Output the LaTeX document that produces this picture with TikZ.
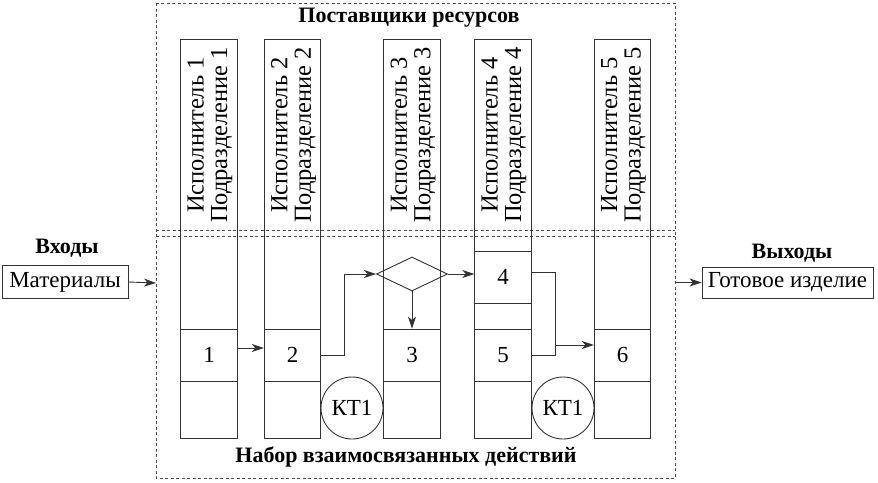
\documentclass[tikz,border=0pt]{standalone}
\usepackage{fontspec}
\setmainfont{Liberation Serif}
\usetikzlibrary{arrows.meta,shapes.geometric,calc}
\newcommand{\fs}{\fontsize{23}{25}\selectfont}
\newcommand{\fc}{\fontsize{24.5}{23.5}\selectfont}
\newcommand{\fb}{\fontsize{22}{24}\selectfont\bfseries}
\begin{document}
\begin{tikzpicture}[x=1pt,y=-1pt,
  ln/.style={line width=0.9pt, draw=black!80},
  frame/.style={line width=0.9pt, draw=black!70, dash pattern=on 3pt off 2.5pt},
  colbox/.style={ln, rectangle, minimum width=56.5pt, minimum height=399pt, inner sep=0pt},
  cell/.style={ln, rectangle, minimum width=56.5pt, minimum height=52pt, inner sep=0pt, font=\fs},
  coltext/.style={rotate=90, align=center, font=\fc, inner sep=0pt},
  hdr/.style={font=\fb, inner sep=0pt},
  io/.style={ln, rectangle, inner sep=0pt, font=\fs},
  kt/.style={ln, circle, minimum size=62pt, inner sep=0pt, font=\fs},
  arr/.style={ln, -{Stealth[length=12pt,width=8pt,inset=3.5pt]}}
]
\useasboundingbox (0,0) rectangle (878,482);
\fill[white] (0,0) rectangle (878,482);

% outer frame and split
\draw[frame] (156,3) rectangle (675,478);
\draw[frame] (156,230) -- (675,230);
\draw[frame] (156,236.5) -- (675,236.5);

\node[hdr] (top) at (409,18) {Поставщики ресурсов};
\node[hdr] (bot) at (406,457) {Набор взаимосвязанных действий};

% columns
\foreach \n/\x in {1/209,2/292.5,3/412,4/503,5/622.5}{
  \node[colbox] (col\n) at (\x,238.5) {};
  \node[coltext] (t\n) at (\x+1,135) {Исполнитель \n\\Подразделение \n};
}

% cells
\node[cell] (c1) at (209,355) {1};
\node[cell] (c2) at (292.5,355) {2};
\node[cell] (c3) at (412,355) {3};
\node[cell] (c5) at (503,355) {5};
\node[cell] (c6) at (622.5,355) {6};
\node[cell] (b4) at (503,277) {4};

\node[ln, diamond, minimum width=71pt, minimum height=34pt, inner sep=0pt] (dia) at (412,274) {};

\node[kt] (k1) at (352,408) {КТ1};
\node[kt] (k2) at (563,408) {КТ1};

% inputs / outputs
\node[hdr] (inh) at (67,248) {Входы};
\node[io, minimum width=126pt, minimum height=33pt] (mat) at (65,282) {Материалы};
\node[hdr] (outh) at (792,253) {Выходы};
\node[io, minimum width=171pt, minimum height=31pt] (out) at (787.5,282.5) {Готовое изделие};
\coordinate (inL) at (156,283);
\coordinate (outR) at (675,282.5);
\draw[arr] (mat.east) -- (inL);
\draw[arr] (outR) -- (out.west);

% flow
\draw[arr] ([yshift=7pt]c1.east) -- ([yshift=7pt]c2.west);
\draw[arr] (c2.east) -- ++(23,0) |- (dia.west);
\draw[arr] (dia.south) -- (c3.north);
\draw[arr] (dia.east) -- (dia.east -| b4.west);
\coordinate (j1) at (555,272);
\coordinate (j2) at (555,355);
\coordinate (jm) at (555,345);
\draw[ln] ([yshift=5pt]b4.east) -- (j1) -- (j2) -- (c5.east);
\draw[arr] (jm) -- (jm -| c6.west);
\end{tikzpicture}
\end{document}
